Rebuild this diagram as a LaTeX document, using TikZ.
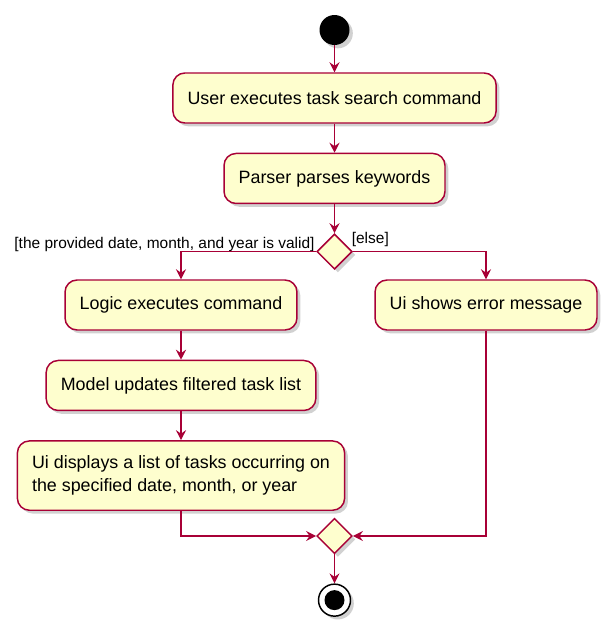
\documentclass[tikz,border=0pt]{standalone}
\usepackage{fontspec}
\setmainfont{Liberation Sans}
\usetikzlibrary{arrows.meta,positioning,shadows,shapes.geometric}
\definecolor{umlred}{HTML}{A80036}
\definecolor{umlfill}{HTML}{FEFECE}
\definecolor{shadowgray}{HTML}{9A9A9A}
\tikzset{
  >=Stealth,
  umlshadow/.style={drop shadow={shadow xshift=2.5pt, shadow yshift=-2.5pt, opacity=0.45, fill=shadowgray}},
  action/.style={
    rectangle, rounded corners=9pt, draw=umlred, line width=1.1pt, fill=umlfill,
    minimum height=37.5pt, inner xsep=11pt, inner ysep=6pt, align=center,
    font=\fontsize{13.4}{17.5}\selectfont, umlshadow
  },
  branch/.style={
    diamond, draw=umlred, line width=1.1pt, fill=umlfill, inner sep=0pt,
    minimum width=26.5pt, minimum height=26.5pt, umlshadow
  },
  startdot/.style={circle, fill=black, inner sep=0pt, minimum size=22.5pt, umlshadow},
  stopring/.style={circle, draw=black, line width=1.1pt, fill=white, inner sep=0pt, minimum size=24pt, umlshadow},
  stopdot/.style={circle, fill=black, inner sep=0pt, minimum size=15pt},
  arrow/.style={-{Stealth[length=7.5pt,width=7.5pt,inset=2.6pt]}, line width=1.1pt, draw=umlred},
  guard/.style={font=\fontsize{11.6}{13}\selectfont, inner sep=0pt}
}

\begin{document}
\begin{tikzpicture}[x=0.75pt, y=-0.75pt, node distance=21.75pt]
\useasboundingbox (0,0) rectangle (614,628);
\node[startdot] (start) at (334.5,30) {};
\node[action, below=20.25pt of start] (user) {User executes task search command};
\node[action, below=of user] (parse) {Parser parses keywords};
\node[branch, below=of parse] (check) {};
\node[action] (logic) at (181,305) {Logic executes command};
\node[action] (error) at (486,305) {Ui shows error message};
\node[action, below=of logic] (model) {Model updates filtered task list};
\node[action, below=of model, align=left, inner ysep=11pt] (display) {Ui displays a list of tasks occurring on\\the specified date, month, or year};
\node[branch] (merge) at (334.5,536) {};
\node[stopring, below=of merge] (stop) {};
\node[stopdot] (stopcore) at (stop) {};
\node[guard, anchor=base east] (validlbl) at ([xshift=-1pt, yshift=2pt]check.west) {[the provided date, month, and year is valid]};
\node[guard, anchor=base west] (elselbl) at ([xshift=-1pt, yshift=6pt]check.east) {[else]};
\draw[arrow] (start) -- (user);
\draw[arrow] (user) -- (parse);
\draw[arrow] (parse) -- (check);
\draw[arrow] (check.west) -| (logic);
\draw[arrow] (check.east) -| (error);
\draw[arrow] (logic) -- (model);
\draw[arrow] (model) -- (display);
\draw[arrow] (display) |- (merge.west);
\draw[arrow] (error) |- (merge.east);
\draw[arrow] (merge) -- (stop);
\end{tikzpicture}
\end{document}
